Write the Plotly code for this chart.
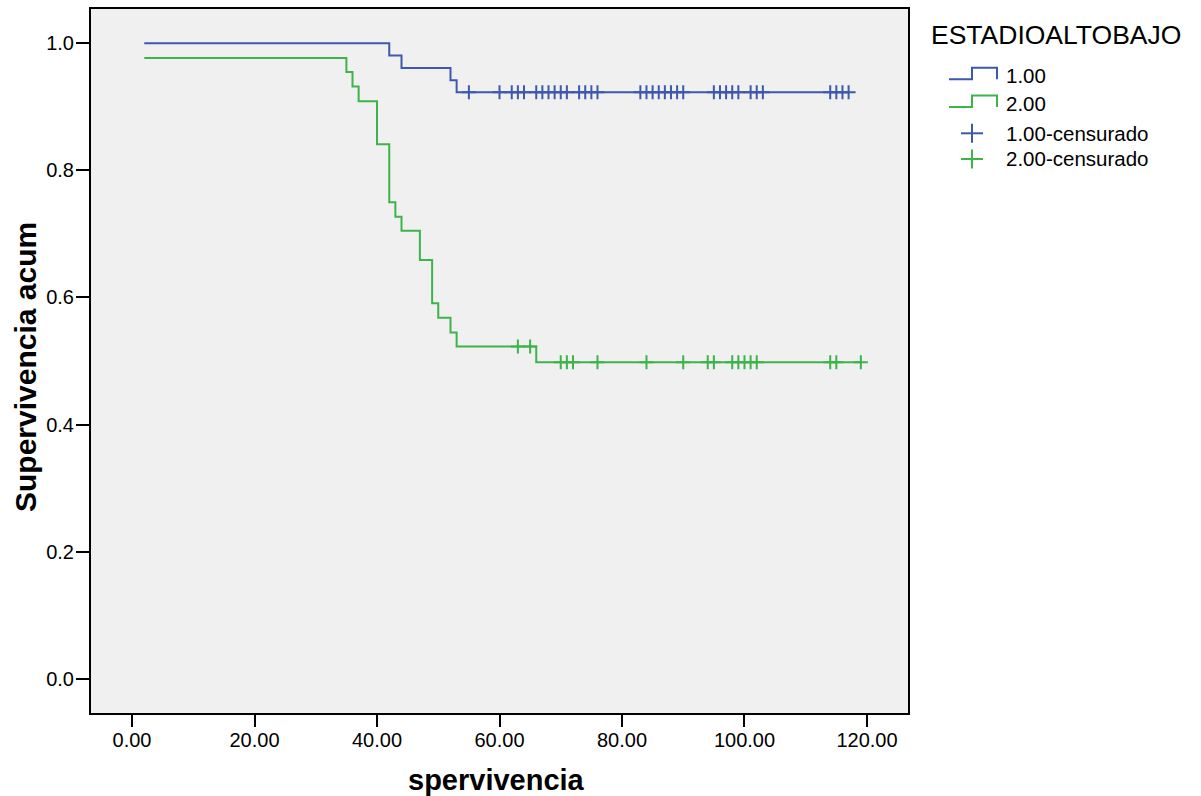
import numpy as np
import plotly.graph_objects as go

# ---------------- data ----------------
group_labels = ["1.00", "2.00"]
legend_title = "ESTADIOALTOBAJO"
x_title = "spervivencia"
y_title = "Supervivencia acum"

# group 1.00: step curve (time, cumulative survival)
g1_times = [2, 42, 44, 52, 53, 117]
g1_surv = [1.000, 0.981, 0.961, 0.942, 0.923, 0.923]
g1_censored = [55, 60, 62, 63, 64, 66, 67, 68, 69, 70, 71, 73, 74, 75, 76,
               83, 84, 85, 86, 87, 88, 89, 90, 95, 96, 97, 98, 99, 101, 102,
               103, 114, 115, 116, 117]

# group 2.00
g2_times = [2, 35, 36, 37, 40, 42, 43, 44, 47, 49, 50, 52, 53, 66, 119]
g2_surv = [0.977, 0.955, 0.932, 0.909, 0.841, 0.750, 0.727, 0.705, 0.659,
           0.591, 0.568, 0.545, 0.523, 0.498, 0.498]
g2_censored = [63, 65, 70, 71, 72, 76, 84, 90, 94, 95, 98, 99, 100, 101, 102,
               114, 115, 119]

x_ticks = [0, 20, 40, 60, 80, 100, 120]
x_tick_text = ["0.00", "20.00", "40.00", "60.00", "80.00", "100.00", "120.00"]
y_ticks = [0.0, 0.2, 0.4, 0.6, 0.8, 1.0]
y_tick_text = ["0.0", "0.2", "0.4", "0.6", "0.8", "1.0"]

# ---------------- styling ----------------
BLUE = "#3E58AC"
GREEN = "#3CB44A"
FONT = "Arial, Liberation Sans, sans-serif"
W, H = 1201, 796
L, R, T, B = 91, 293, 9, 83


def step_value(times, surv, t):
    idx = np.searchsorted(np.asarray(times), t, side="right") - 1
    return np.asarray(surv)[idx]


fig = go.Figure()
for times, surv, cens, color in [
    (g1_times, g1_surv, g1_censored, BLUE),
    (g2_times, g2_surv, g2_censored, GREEN),
]:
    fig.add_trace(go.Scatter(
        x=times, y=surv, mode="lines", line=dict(color=color, width=2, shape="hv"),
        showlegend=False, hoverinfo="skip"))
    fig.add_trace(go.Scatter(
        x=cens, y=step_value(times, surv, cens), mode="markers",
        marker=dict(symbol="cross-thin", size=10, line=dict(color=color, width=2)),
        showlegend=False, hoverinfo="skip"))

# ---------------- pixel -> paper helpers ----------------
pw = W - L - R
ph = H - T - B


def px(x):
    return (x - L) / pw


def py(y):
    return (H - B - y) / ph


shapes = []
annotations = []

# axis titles
annotations.append(dict(text=f"<b>{x_title}</b>", x=px(496), y=py(780), xref="paper",
                        yref="paper", xanchor="center", yanchor="middle", showarrow=False,
                        font=dict(family=FONT, size=29, color="black")))
annotations.append(dict(text=f"<b>{y_title}</b>", x=px(25), y=py(367), xref="paper",
                        yref="paper", xanchor="center", yanchor="middle", showarrow=False,
                        textangle=-90, font=dict(family=FONT, size=30, color="black")))

# custom legend (SPSS style)
annotations.append(dict(text=legend_title, x=px(929), y=py(35), xref="paper", yref="paper",
                        xanchor="left", yanchor="middle", showarrow=False,
                        font=dict(family=FONT, size=26.5, color="black")))
for i, (lab, color) in enumerate(zip(group_labels, [BLUE, GREEN])):
    dy = i * 27.8
    lo, hi = 79.3 + dy, 67.7 + dy
    path = (f"M{px(949)},{py(lo)} L{px(972)},{py(lo)} L{px(972)},{py(hi)} "
            f"L{px(997)},{py(hi)} L{px(997)},{py(lo)}")
    shapes.append(dict(type="path", path=path, xref="paper", yref="paper",
                       line=dict(color=color, width=2)))
    annotations.append(dict(text=lab, x=px(1004), y=py(75.5 + dy), xref="paper", yref="paper",
                            xanchor="left", yanchor="middle", showarrow=False,
                            font=dict(family=FONT, size=20.5, color="black")))
for i, (lab, color) in enumerate(zip(group_labels, [BLUE, GREEN])):
    cy = 133.3 + i * 25.7
    shapes.append(dict(type="line", x0=px(961), x1=px(983), y0=py(cy), y1=py(cy),
                       xref="paper", yref="paper", line=dict(color=color, width=2)))
    shapes.append(dict(type="line", x0=px(972), x1=px(972), y0=py(cy - 9.5), y1=py(cy + 9.5),
                       xref="paper", yref="paper", line=dict(color=color, width=2)))
    annotations.append(dict(text=lab + "-censurado", x=px(1004), y=py(cy), xref="paper",
                            yref="paper", xanchor="left", yanchor="middle", showarrow=False,
                            font=dict(family=FONT, size=20.5, color="black")))

fig.update_layout(
    width=W, height=H,
    margin=dict(l=L, r=R, t=T, b=B, pad=0, autoexpand=False),
    paper_bgcolor="white", plot_bgcolor="#F0F0F0",
    font=dict(family=FONT, size=20, color="black"),
    shapes=shapes, annotations=annotations, showlegend=False,
)
fig.update_xaxes(
    range=[-6.7, 126.7], tickvals=x_ticks, ticktext=x_tick_text, automargin=False,
    showgrid=False, zeroline=False, showline=True, linecolor="black", linewidth=2,
    mirror=True, ticks="outside", ticklen=12, tickwidth=2, tickcolor="black",
    tickfont=dict(family=FONT, size=20), ticklabelstandoff=-4,
)
fig.update_yaxes(
    range=[-0.054, 1.054], tickvals=y_ticks, ticktext=y_tick_text, automargin=False,
    showgrid=False, zeroline=False, showline=True, linecolor="black", linewidth=2,
    mirror=True, ticks="outside", ticklen=13, tickwidth=2, tickcolor="black",
    tickfont=dict(family=FONT, size=20), ticklabelstandoff=-2,
)

fig.write_html("out.html", config={"displayModeBar": False},
               post_script="document.body.style.margin='0';")
